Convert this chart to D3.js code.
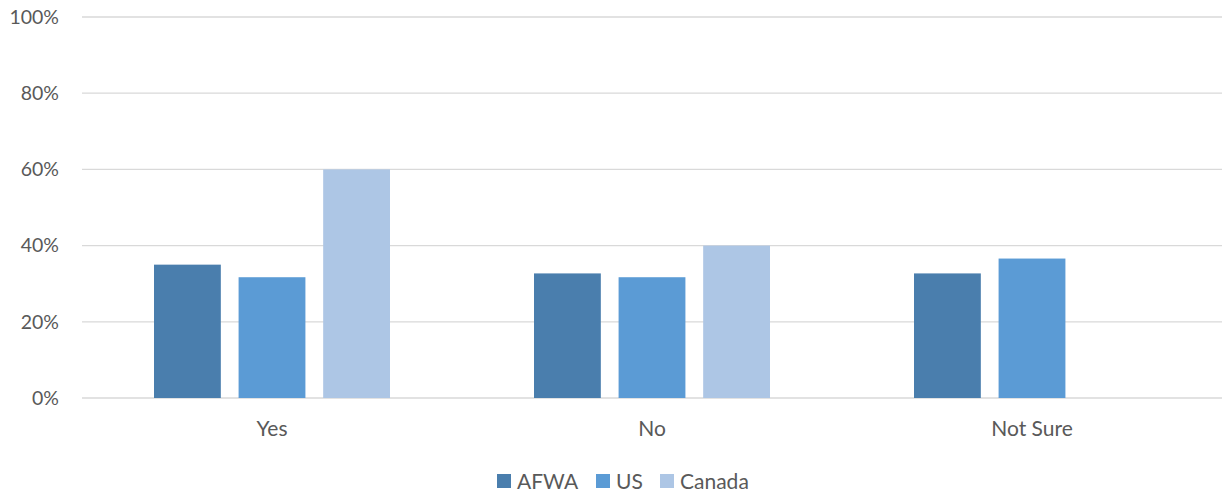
<!DOCTYPE html>
<html>
<head>
<meta charset="utf-8">
<script src="https://d3js.org/d3.v7.min.js"></script>
<style>
  body { margin: 0; background: #fff; }
  text { font-family: Lato, "Open Sans", sans-serif; fill: #595959; }
</style>
</head>
<body>
<svg id="chart" width="1225" height="495"></svg>
<script>
// categories and series
var categories = ["Yes", "No", "Not Sure"];
var seriesNames = ["AFWA", "US", "Canada"];
var afwa = [35.0, 32.7, 32.7];
var us = [31.7, 31.7, 36.6];
var canada = [60.0, 40.0, 0];
var yTicks = [0, 20, 40, 60, 80, 100];
var colors = ["#4a7ead", "#5b9bd5", "#adc6e5"];

var seriesValues = [afwa, us, canada];

var svg = d3.select("#chart");
var plotLeft = 82, plotRight = 1222, plotTop = 17, plotBottom = 398;

var x0 = d3.scaleBand().domain(categories).range([plotLeft, plotRight]).padding(0);
var x1 = d3.scaleBand().domain(seriesNames).range([72, 308]).paddingInner(0.21).paddingOuter(0);
var y = d3.scaleLinear().domain([0, 100]).range([plotBottom, plotTop]);

// gridlines
svg.append("g").selectAll("line")
    .data(yTicks)
    .enter().append("line")
    .attr("x1", plotLeft).attr("x2", plotRight)
    .attr("y1", function(d) { return y(d); })
    .attr("y2", function(d) { return y(d); })
    .attr("stroke", "#d9d9d9")
    .attr("stroke-width", 1.3);

// y axis labels
var yAxis = d3.axisLeft(y).tickValues(yTicks).tickSize(0).tickPadding(0)
    .tickFormat(function(d) { return d + "%"; });
var gy = svg.append("g").attr("transform", "translate(59,0)").call(yAxis);
gy.select(".domain").remove();
gy.attr("font-family", null).attr("font-size", null);
gy.selectAll("text").style("font-size", "19.5px").attr("fill", "#595959");

// bars
var groups = svg.append("g").selectAll("g")
    .data(categories)
    .enter().append("g")
    .attr("transform", function(d) { return "translate(" + x0(d) + ",0)"; });

groups.selectAll("rect")
    .data(function(c, i) {
        return seriesNames.map(function(s, k) {
            return { series: s, value: seriesValues[k][i], color: colors[k] };
        }).filter(function(d) { return d.value > 0; });
    })
    .enter().append("rect")
    .attr("x", function(d) { return x1(d.series); })
    .attr("width", x1.bandwidth())
    .attr("y", function(d) { return y(d.value); })
    .attr("height", function(d) { return y(0) - y(d.value); })
    .attr("fill", function(d) { return d.color; });

// category labels
var xAxis = d3.axisBottom(x0).tickSize(0).tickPadding(0);
var gx = svg.append("g").attr("transform", "translate(0,436)").call(xAxis);
gx.select(".domain").remove();
gx.attr("font-family", null).attr("font-size", null);
gx.selectAll("text").style("font-size", "21px").attr("fill", "#595959").attr("dy", 0);

// legend
var legendX = [497, 596, 660];
var legend = svg.append("g").selectAll("g")
    .data(seriesNames)
    .enter().append("g")
    .attr("transform", function(d, i) { return "translate(" + legendX[i] + ",474)"; });
legend.append("rect")
    .attr("width", 14).attr("height", 14)
    .attr("fill", function(d, i) { return colors[i]; });
legend.append("text")
    .attr("x", 20).attr("y", 15)
    .style("font-size", "21px")
    .text(function(d) { return d; });
</script>
</body>
</html>
